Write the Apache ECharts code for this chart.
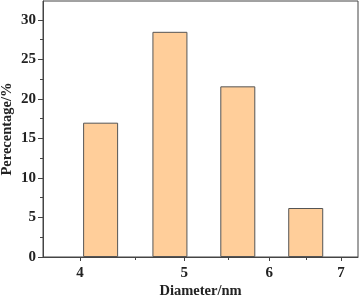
<!DOCTYPE html>
<html>
<head>
<meta charset="utf-8">
<script src="https://cdn.jsdelivr.net/npm/echarts@6/dist/echarts.min.js"></script>
<style>html,body{margin:0;padding:0;background:#fff}#c{width:361px;height:300px}</style>
</head>
<body>
<div id="c"></div>
<script>
var diameters = [4.18, 4.85, 5.61, 6.49];
var percentages = [17.0, 28.5, 21.6, 6.2];
var xTickLabels = [4, 5, 6, 7];
var xMinorTicks = [4.5, 5.5, 6.5];
var yTickLabels = [0, 5, 10, 15, 20, 25, 30];
var xName = 'Diameter/nm';
var yName = 'Perecentage/%';

var font = {fontFamily: 'Liberation Serif', fontWeight: 'bold', fontSize: 15, color: '#222'};
var nameFont = {fontFamily: 'Liberation Serif', fontWeight: 'bold', fontSize: 14.5, color: '#222'};
var chart = echarts.init(document.getElementById('c'));
var xMin = 3.694, xMax = 7.26;
chart.setOption({
  animation: false,
  grid: {left: 43, right: 3, top: 1, bottom: 43, outerBoundsMode: 'none', containLabel: false, show: true, borderColor: '#444', borderWidth: 1, backgroundColor: 'transparent'},
  xAxis: [{
    type: 'log', min: xMin, max: xMax, logBase: 10,
    name: xName, nameLocation: 'middle', nameGap: 27, nameMoveOverlap: false,
    nameTextStyle: nameFont,
    axisLine: {show: true, onZero: false, lineStyle: {color: '#444', width: 1}},
    axisTick: {show: true, length: 4, customValues: xTickLabels, lineStyle: {color: '#444'}},
    axisLabel: Object.assign({customValues: xTickLabels, margin: 9, formatter: function(v){return String(Math.round(v));}}, font),
    splitLine: {show: false}
  }, {
    type: 'log', min: xMin, max: xMax, position: 'bottom',
    axisLine: {show: false},
    axisTick: {show: true, length: 3, customValues: xMinorTicks, lineStyle: {color: '#444'}},
    axisLabel: {show: false, customValues: xMinorTicks},
    splitLine: {show: false}
  }],
  yAxis: {
    type: 'value', min: 0, max: 32.4, interval: 5,
    name: yName, nameLocation: 'middle', nameGap: 28, nameMoveOverlap: false,
    nameTextStyle: Object.assign({verticalAlign: 'bottom'}, nameFont),
    axisLine: {show: true, lineStyle: {color: '#444', width: 1}},
    axisTick: {show: true, length: 5, customValues: yTickLabels, lineStyle: {color: '#444'}},
    minorTick: {show: true, splitNumber: 2, length: 3, lineStyle: {color: '#444'}},
    axisLabel: Object.assign({customValues: yTickLabels, margin: 7}, font),
    splitLine: {show: false}
  },
  series: [{
    type: 'bar',
    xAxisIndex: 0,
    barWidth: 35,
    data: diameters.map(function(d, i){return [d, percentages[i]];}),
    itemStyle: {color: '#FFCE9A', borderColor: '#555', borderWidth: 1}
  }]
});
</script>
</body>
</html>
